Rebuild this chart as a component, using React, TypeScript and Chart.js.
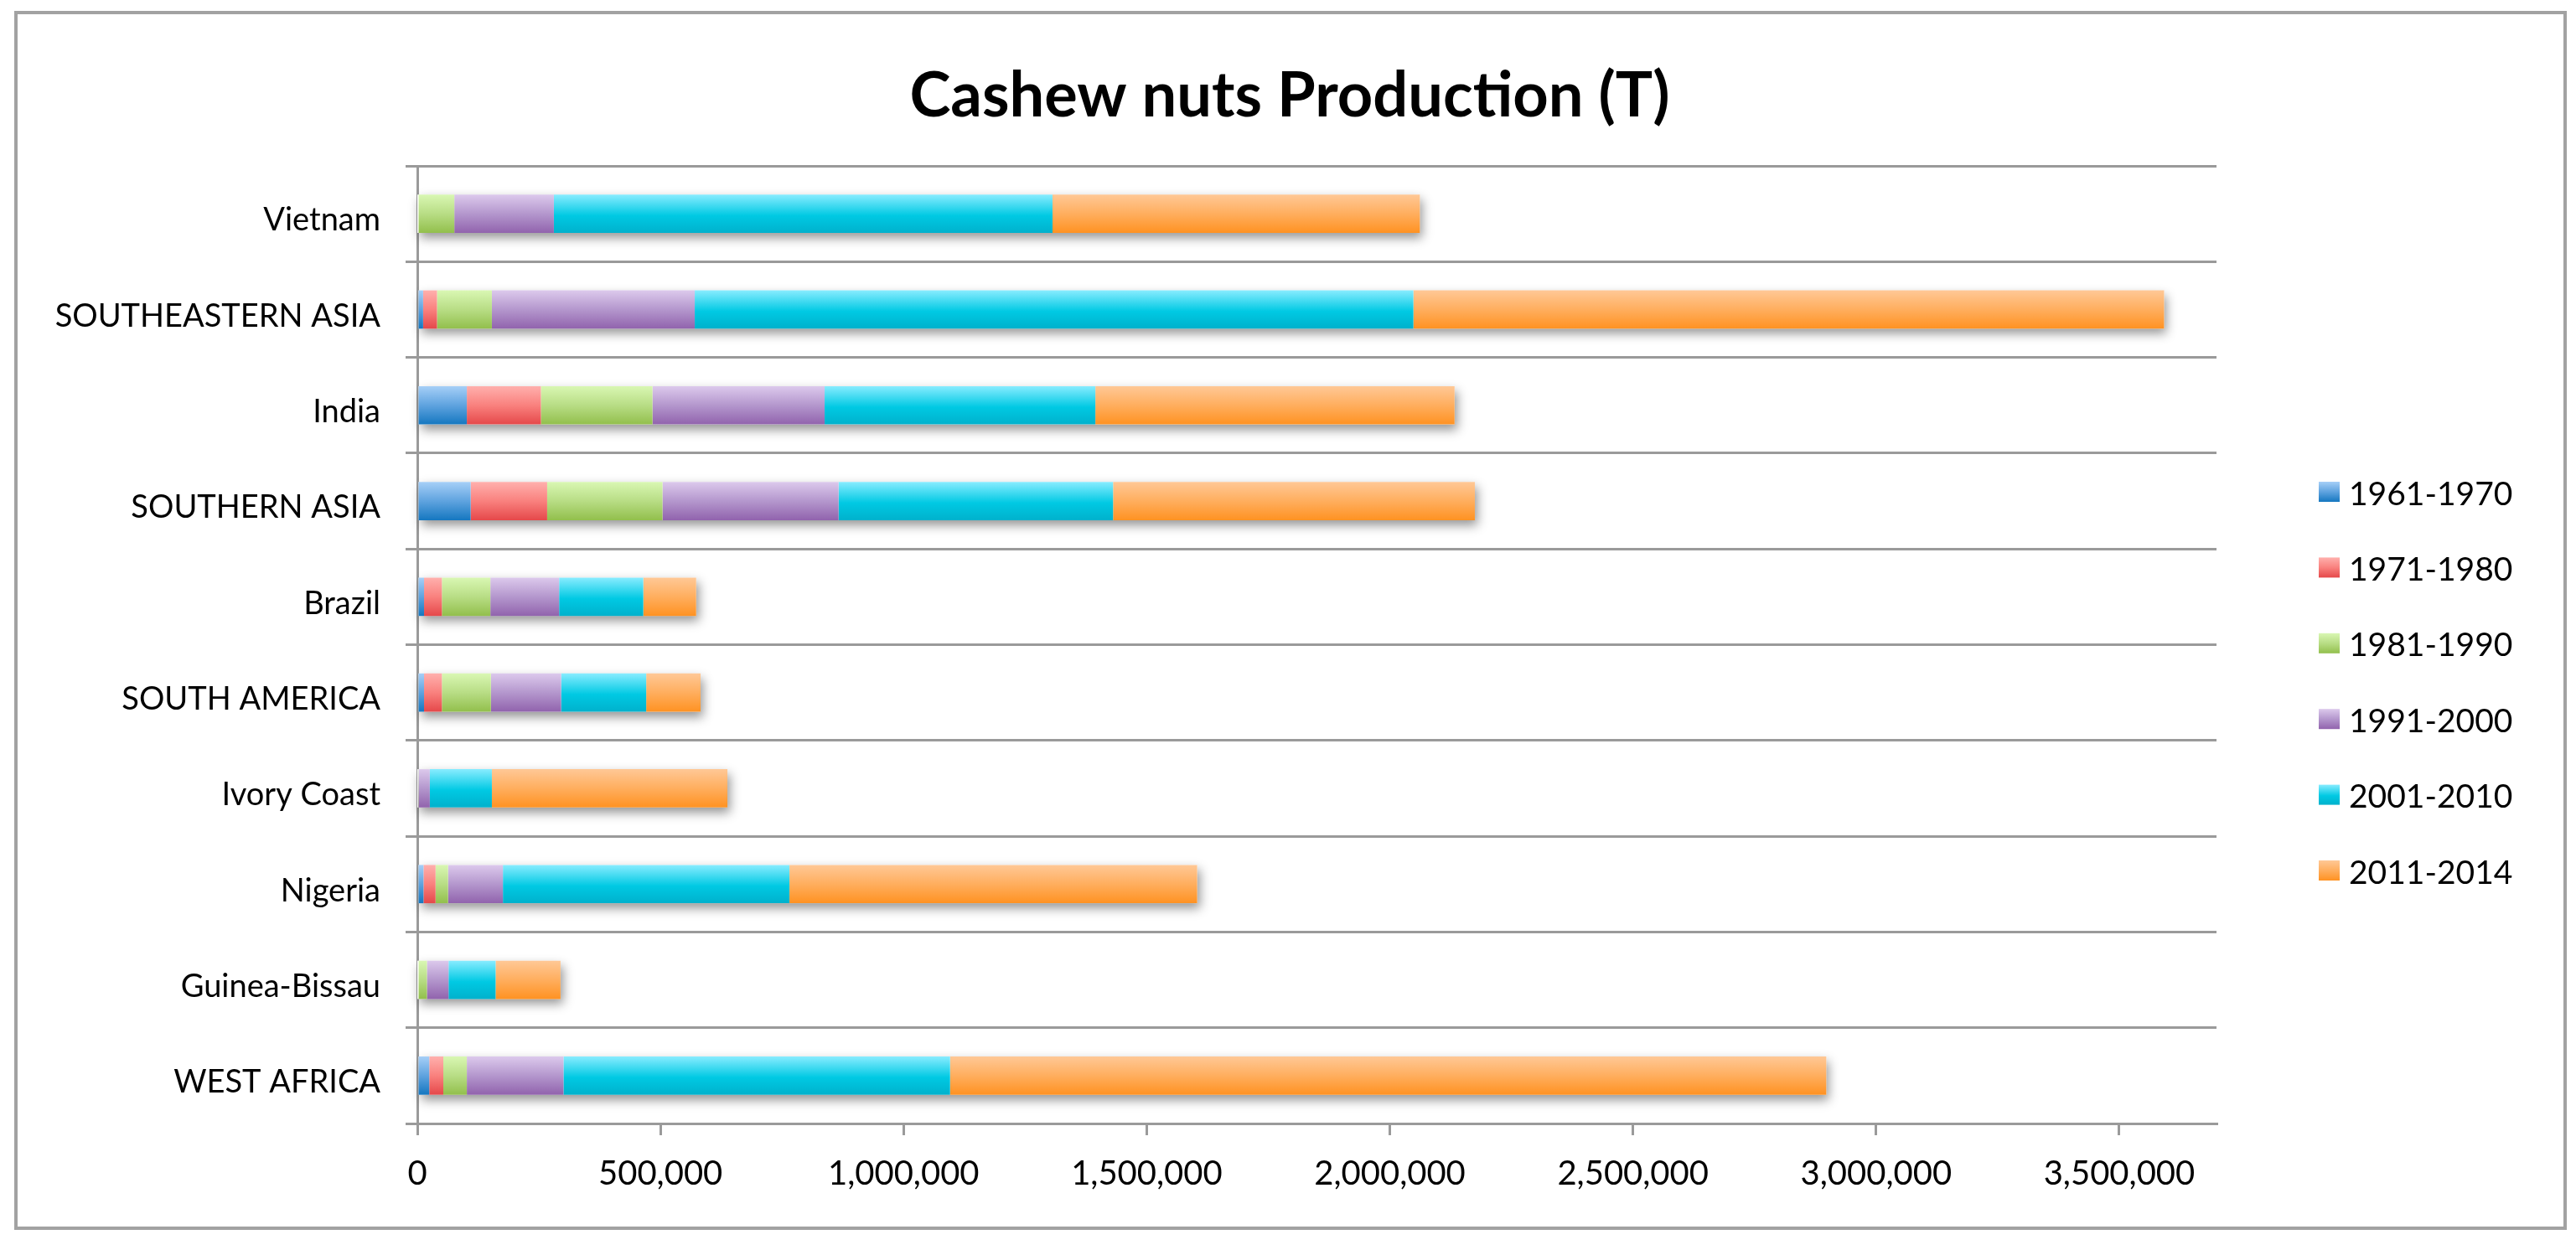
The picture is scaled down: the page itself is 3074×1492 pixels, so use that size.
import React, { useEffect, useRef } from 'react';
import { Chart, registerables } from 'chart.js';

Chart.register(...registerables);

// ---------- data ----------
const titleText = 'Cashew nuts Production (T)';

const categories = [
  'Vietnam',
  'SOUTHEASTERN ASIA',
  'India',
  'SOUTHERN ASIA',
  'Brazil',
  'SOUTH AMERICA',
  'Ivory Coast',
  'Nigeria',
  'Guinea-Bissau',
  'WEST AFRICA',
];

const seriesLabels = ['1961-1970', '1971-1980', '1981-1990', '1991-2000', '2001-2010', '2011-2014'];

const s1961_1970 = [0, 11900, 101800, 109700, 13800, 13800, 0, 12700, 0, 24600];
const s1971_1980 = [0, 28600, 152300, 157300, 36700, 36700, 0, 24800, 0, 28800];
const s1981_1990 = [76100, 112800, 229500, 237200, 99700, 100800, 2000, 25700, 19800, 48400];
const s1991_2000 = [204700, 417200, 354000, 362100, 141400, 144400, 23700, 112800, 44400, 198800];
const s2001_2010 = [1025500, 1477900, 556800, 564500, 173100, 175000, 127600, 589300, 96800, 795000];
const s2011_2014 = [755400, 1543800, 738700, 744000, 108700, 111800, 484400, 838400, 133500, 1801900];

const seriesValues = [s1961_1970, s1971_1980, s1981_1990, s1991_2000, s2001_2010, s2011_2014];

const xAxisMin = 0;
const xAxisMax = 3700000;
const xTickValues = [0, 500000, 1000000, 1500000, 2000000, 2500000, 3000000, 3500000];

// ---------- styles ----------
const GRADIENTS: [number, string][][] = [
  [[0, '#a6cff7'], [0.5, '#5fa3df'], [1, '#1577c0']],
  [[0, '#ffb0ad'], [0.5, '#f9817e'], [1, '#e5484a']],
  [[0, '#d9f7b3'], [0.5, '#b8dd85'], [1, '#92bf4c']],
  [[0, '#dcc9ec'], [0.5, '#b497cd'], [1, '#9163ad']],
  [[0, '#88ecff'], [0.55, '#00c9e3'], [1, '#00b1cc']],
  [[0, '#ffc896'], [0.5, '#ffae5e'], [1, '#ff9222']],
];
const GRID = '#9a9a9a';
const FONT = 'Lato';

function barFill(c: any, i: number) {
  const stops = GRADIENTS[i];
  if (!c || c.type !== 'data') return stops[stops.length - 1][1];
  const chart = c.chart;
  const ys = chart.scales && chart.scales.y;
  if (!ys || !chart.chartArea) return stops[stops.length - 1][1];
  const yc = ys.getPixelForValue(c.dataIndex);
  const half = Math.abs(ys.getPixelForValue(1) - ys.getPixelForValue(0)) * 0.2;
  const g = chart.ctx.createLinearGradient(0, yc - half, 0, yc + half);
  stops.forEach(([o, col]) => g.addColorStop(o, col));
  return g;
}

const framePlugin = {
  id: 'frame',
  beforeDraw(chart: any) {
    const ctx = chart.ctx;
    ctx.save();
    ctx.fillStyle = '#ffffff';
    ctx.fillRect(0, 0, chart.width, chart.height);
    ctx.strokeStyle = '#a2a2a2';
    ctx.lineWidth = 4;
    ctx.strokeRect(19, 15, chart.width - 19 - 13, chart.height - 15 - 26);
    ctx.restore();
  },
};

const shadowPlugin = {
  id: 'barShadow',
  beforeDatasetsDraw(chart: any) {
    const ctx = chart.ctx;
    const metas = chart.data.datasets.map((_: any, i: number) => chart.getDatasetMeta(i));
    const n = chart.data.labels.length;
    ctx.save();
    ctx.shadowColor = 'rgba(0,0,0,0.42)';
    ctx.shadowBlur = 12;
    ctx.shadowOffsetX = 3;
    ctx.shadowOffsetY = 6;
    ctx.fillStyle = '#ffffff';
    for (let j = 0; j < n; j++) {
      let l = Infinity;
      let r = -Infinity;
      let y = 0;
      let h = 0;
      metas.forEach((m: any) => {
        const el = m.data[j];
        if (!el) return;
        l = Math.min(l, el.base, el.x);
        r = Math.max(r, el.base, el.x);
        y = el.y;
        h = el.height;
      });
      if (r > l) ctx.fillRect(l, y - h / 2, r - l, h);
    }
    ctx.restore();
  },
};

const titlePlugin = {
  id: 'customTitle',
  afterDraw(chart: any) {
    const ctx = chart.ctx;
    ctx.save();
    ctx.fillStyle = '#000000';
    ctx.font = `bold 74px ${FONT}`;
    ctx.textAlign = 'center';
    ctx.textBaseline = 'alphabetic';
    ctx.fillText(titleText, chart.width / 2 + 2, 139);
    ctx.restore();
  },
};

const legendPlugin = {
  id: 'customLegend',
  afterDraw(chart: any) {
    const ctx = chart.ctx;
    const area = chart.chartArea;
    const x0 = area.right + 122;
    const gap = 90.4;
    const top = area.top + 392;
    ctx.save();
    chart.data.datasets.forEach((ds: any, i: number) => {
      const yc = top + i * gap;
      const by = yc - 15;
      const g = ctx.createLinearGradient(0, by, 0, by + 24);
      GRADIENTS[i].forEach(([o, col]) => g.addColorStop(o, col));
      ctx.fillStyle = g;
      ctx.fillRect(x0, by, 25, 24);
      ctx.fillStyle = '#000000';
      ctx.font = `39px ${FONT}`;
      ctx.textAlign = 'left';
      ctx.textBaseline = 'middle';
      ctx.fillText(ds.label, x0 + 36, yc);
    });
    ctx.restore();
  },
};

export default function App() {
  const ref = useRef<HTMLCanvasElement>(null);

  useEffect(() => {
    const canvas = ref.current;
    if (!canvas) return;
    const chart = new Chart(canvas, {
      type: 'bar',
      data: {
        labels: categories,
        datasets: seriesValues.map((vals, i) => ({
          label: seriesLabels[i],
          data: vals,
          backgroundColor: (c: any) => barFill(c, i),
          borderWidth: 0,
          barPercentage: 0.4,
          categoryPercentage: 1,
        })),
      },
      options: {
        indexAxis: 'y',
        responsive: false,
        animation: false,
        devicePixelRatio: 1,
        layout: { padding: { top: 198, left: 0, right: 429, bottom: 67 } },
        plugins: {
          legend: { display: false },
          title: { display: false },
          tooltip: { enabled: false },
        },
        scales: {
          x: {
            stacked: true,
            min: xAxisMin,
            max: xAxisMax,
            afterBuildTicks: (s: any) => {
              s.ticks = xTickValues.map((v) => ({ value: v }));
            },
            afterFit: (s: any) => {
              s.height = 84;
            },
            ticks: {
              autoSkip: false,
              maxRotation: 0,
              minRotation: 0,
              color: '#000000',
              padding: 22,
              font: { family: FONT, size: 40 },
              callback: (v: any) => Number(v).toLocaleString('en-US'),
            },
            grid: { drawOnChartArea: false, drawTicks: true, tickLength: 14, color: GRID, lineWidth: 3 },
            border: { display: true, color: GRID, width: 3 },
          },
          y: {
            stacked: true,
            afterFit: (s: any) => {
              s.width = 498;
            },
            ticks: {
              autoSkip: false,
              color: '#000000',
              padding: 30,
              labelOffset: 8,
              font: { family: FONT, size: 38 },
            },
            grid: { offset: true, drawTicks: true, tickLength: 14, color: GRID, lineWidth: 3 },
            border: { display: true, color: GRID, width: 3 },
          },
        },
      } as any,
      plugins: [framePlugin, shadowPlugin, titlePlugin, legendPlugin],
    });
    return () => chart.destroy();
  }, []);

  return (
    <div style={{ position: 'absolute', left: 0, top: 0, width: 3074, height: 1492 }}>
      <canvas ref={ref} width={3074} height={1492} style={{ display: 'block', width: 3074, height: 1492 }} />
    </div>
  );
}
